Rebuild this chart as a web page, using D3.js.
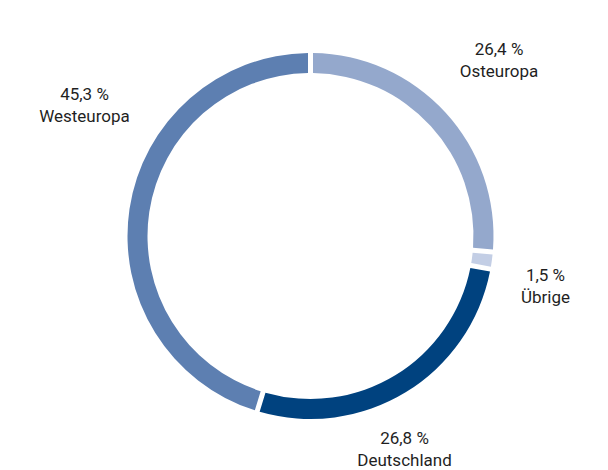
<!DOCTYPE html>
<html>
<head>
<meta charset="utf-8">
<script src="https://cdn.jsdelivr.net/npm/d3@7"></script>
<style>
  html, body { margin: 0; padding: 0; background: #fff; }
  svg { display: block; }
</style>
</head>
<body>
<svg id="chart" width="608" height="470"></svg>
<script>
// Regional split, clockwise from 12 o'clock
const regions = ["Osteuropa", "Übrige", "Deutschland", "Westeuropa"];
const shares = [26.4, 1.5, 26.8, 45.3];
const shareLabels = ["26,4 %", "1,5 %", "26,8 %", "45,3 %"];
const colors = ["#94a8cc", "#c3cee5", "#00427f", "#5d7fb1"];

const svg = d3.select("#chart");
const cx = 310.5, cy = 236;
const outerR = 183, innerR = 163;

const data = regions.map((r, i) => ({ region: r, share: shares[i], label: shareLabels[i], color: colors[i] }));

const pie = d3.pie().sort(null).value(d => d.share);
const arc = d3.arc()
  .innerRadius(innerR)
  .outerRadius(outerR)
  .padRadius(outerR)
  .padAngle(5 / outerR);

const g = svg.append("g").attr("transform", `translate(${cx},${cy})`);
const arcs = pie(data);

g.selectAll("path.slice")
  .data(arcs)
  .join("path")
  .attr("class", "slice")
  .attr("d", arc)
  .attr("fill", d => d.data.color);

// Label anchors (first-line baseline) placed outside the ring
const labelPos = {
  "Osteuropa":   [499, 55],
  "Übrige":      [545.5, 281],
  "Deutschland": [404.5, 444],
  "Westeuropa":  [84.5, 100]
};
const font = "Roboto, 'Noto Sans', sans-serif";

const labels = svg.selectAll("g.lbl")
  .data(arcs)
  .join("g")
  .attr("class", "lbl")
  .attr("transform", d => `translate(${labelPos[d.data.region][0]},${labelPos[d.data.region][1]})`);

labels.append("text")
  .attr("text-anchor", "middle")
  .attr("font-family", font)
  .attr("font-size", 17)
  .attr("fill", "#1f1f1f")
  .text(d => d.data.label);

labels.append("text")
  .attr("text-anchor", "middle")
  .attr("y", 22)
  .attr("font-family", font)
  .attr("font-size", 17)
  .attr("fill", "#1f1f1f")
  .text(d => d.data.region);
</script>
</body>
</html>
